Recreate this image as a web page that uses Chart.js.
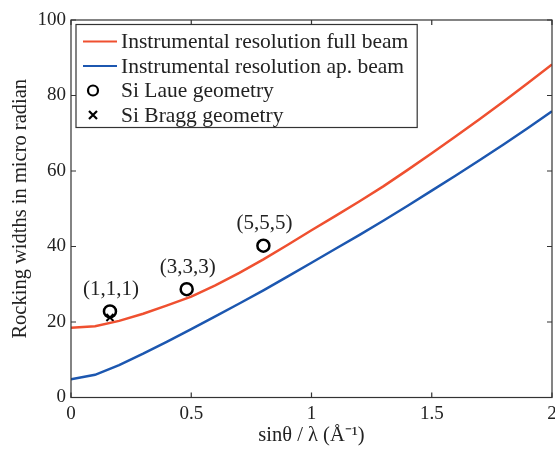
<!DOCTYPE html>
<html>
<head>
<meta charset="utf-8">
<script src="https://cdn.jsdelivr.net/npm/chart.js@4.4.1/dist/chart.umd.min.js"></script>
<style>
  html, body { margin: 0; padding: 0; background: #fff; }
  #wrap { width: 555px; height: 449px; }
</style>
</head>
<body>
<div id="wrap"><canvas id="rockingChart" width="555" height="449"></canvas></div>
<script>
// sin(theta)/lambda grid for the resolution curves
const sinThetaOverLambda = [0, 0.1, 0.2, 0.3, 0.4, 0.5, 0.6, 0.7, 0.8, 0.9, 1.0,
  1.1, 1.2, 1.3, 1.4, 1.5, 1.6, 1.7, 1.8, 1.9, 2.0];
const fullBeam = [18.5, 18.9, 20.3, 22.2, 24.4, 26.7, 29.7, 33.0, 36.6, 40.4, 44.3,
  48.1, 52.0, 56.0, 60.3, 64.7, 69.2, 73.8, 78.5, 83.3, 88.2];
const apBeam = [4.8, 6.0, 8.6, 11.6, 14.8, 18.1, 21.5, 24.9, 28.4, 32.0, 35.7,
  39.4, 43.1, 46.9, 50.8, 54.8, 58.8, 62.9, 67.1, 71.4, 75.8];

// measured Si reflections
const reflections = ['(1,1,1)', '(3,3,3)', '(5,5,5)'];
const laueX = [0.162, 0.481, 0.80];
const laueY = [22.8, 28.7, 40.2];
const braggX = [0.162];
const braggY = [21.2];

const xTicks = [0, 0.5, 1, 1.5, 2];
const yTicks = [0, 20, 40, 60, 80, 100];

const serif = '"Liberation Serif", "Times New Roman", serif';
const red = '#ef5030';
const blue = '#1c57b0';

const toPoints = (xs, ys) => xs.map((x, i) => ({ x: x, y: ys[i] }));

// MATLAB-like frame with inward ticks on all four sides
const framePlugin = {
  id: 'frame',
  afterDraw(chart) {
    const { ctx, chartArea: a, scales } = chart;
    const len = 5;
    ctx.save();
    ctx.strokeStyle = '#333';
    ctx.lineWidth = 1.2;
    ctx.strokeRect(a.left, a.top, a.right - a.left, a.bottom - a.top);
    ctx.beginPath();
    xTicks.forEach(v => {
      const px = scales.x.getPixelForValue(v);
      ctx.moveTo(px, a.bottom); ctx.lineTo(px, a.bottom - len);
      ctx.moveTo(px, a.top); ctx.lineTo(px, a.top + len);
    });
    yTicks.forEach(v => {
      const py = scales.y.getPixelForValue(v);
      ctx.moveTo(a.left, py); ctx.lineTo(a.left + len, py);
      ctx.moveTo(a.right, py); ctx.lineTo(a.right - len, py);
    });
    ctx.stroke();
    ctx.restore();
  }
};

// (h,k,l) labels above the Laue points
const reflectionLabels = {
  id: 'reflectionLabels',
  afterDatasetsDraw(chart) {
    const { ctx, scales } = chart;
    ctx.save();
    ctx.font = '21px ' + serif;
    ctx.fillStyle = '#222';
    ctx.textAlign = 'center';
    ctx.textBaseline = 'middle';
    reflections.forEach((txt, i) => {
      const px = scales.x.getPixelForValue(laueX[i]);
      const py = scales.y.getPixelForValue(laueY[i]);
      ctx.fillText(txt, px + 1, py - 22);
    });
    ctx.restore();
  }
};

// boxed legend in the upper-left corner of the plot area
const boxLegend = {
  id: 'boxLegend',
  afterDraw(chart) {
    const { ctx, chartArea: a } = chart;
    const sets = chart.data.datasets;
    const left = a.left + 5, top = a.top + 4.5;
    const rowH = 24.5, textX = left + 45;
    ctx.save();
    ctx.font = '21.5px ' + serif;
    let maxW = 0;
    sets.forEach(ds => { maxW = Math.max(maxW, ctx.measureText(ds.label).width); });
    const w = textX - left + maxW + 9;
    const h = rowH * sets.length + 5;
    ctx.fillStyle = '#fff';
    ctx.fillRect(left, top, w, h);
    ctx.strokeStyle = '#333';
    ctx.lineWidth = 1.2;
    ctx.strokeRect(left, top, w, h);
    sets.forEach((ds, i) => {
      const y = top + 17 + i * rowH;
      if (ds.showLine) {
        ctx.strokeStyle = ds.borderColor;
        ctx.lineWidth = 2.2;
        ctx.beginPath();
        ctx.moveTo(left + 7, y); ctx.lineTo(left + 41, y);
        ctx.stroke();
      } else if (ds.pointStyle === 'circle') {
        ctx.strokeStyle = '#000';
        ctx.lineWidth = 2.2;
        ctx.beginPath();
        ctx.arc(left + 17, y, 5, 0, Math.PI * 2);
        ctx.stroke();
      } else {
        ctx.strokeStyle = '#000';
        ctx.lineWidth = 2.2;
        ctx.beginPath();
        ctx.moveTo(left + 13, y - 4); ctx.lineTo(left + 21, y + 4);
        ctx.moveTo(left + 13, y + 4); ctx.lineTo(left + 21, y - 4);
        ctx.stroke();
      }
      ctx.fillStyle = '#222';
      ctx.textBaseline = 'middle';
      ctx.fillText(ds.label, textX, y + 1);
    });
    ctx.restore();
  }
};

new Chart(document.getElementById('rockingChart'), {
  type: 'scatter',
  data: {
    datasets: [{
      label: 'Instrumental resolution full beam',
      data: toPoints(sinThetaOverLambda, fullBeam),
      showLine: true,
      borderColor: red,
      borderWidth: 2.5,
      pointRadius: 0,
      tension: 0
    }, {
      label: 'Instrumental resolution ap. beam',
      data: toPoints(sinThetaOverLambda, apBeam),
      showLine: true,
      borderColor: blue,
      borderWidth: 2.5,
      pointRadius: 0,
      tension: 0
    }, {
      label: 'Si Laue geometry',
      data: toPoints(laueX, laueY),
      showLine: false,
      pointStyle: 'circle',
      pointRadius: 6,
      pointBorderWidth: 2.5,
      borderColor: '#000',
      backgroundColor: 'rgba(0,0,0,0)'
    }, {
      label: 'Si Bragg geometry',
      data: toPoints(braggX, braggY),
      showLine: false,
      pointStyle: 'crossRot',
      pointRadius: 5,
      pointBorderWidth: 2,
      borderColor: '#000'
    }]
  },
  options: {
    responsive: false,
    animation: false,
    layout: { autoPadding: false, padding: { left: 0, right: 3, top: 20, bottom: 0 } },
    plugins: {
      legend: { display: false },
      tooltip: { enabled: false }
    },
    scales: {
      x: {
        type: 'linear',
        min: 0,
        max: 2,
        grid: { display: false, drawTicks: false },
        border: { display: false },
        ticks: {
          stepSize: 0.5,
          padding: 5,
          maxRotation: 0,
          color: '#222',
          font: { family: serif, size: 19 },
          callback: v => String(v)
        },
        title: {
          display: true,
          text: 'sinθ / λ (Å⁻¹)',
          color: '#222',
          font: { family: serif, size: 20.5 },
          padding: { top: 0, bottom: 1 }
        },
        afterFit(scale) {
          scale.height = 51.5;
          scale.paddingLeft = 0;
          scale.paddingRight = 0;
        }
      },
      y: {
        min: 0,
        max: 100,
        grid: { display: false, drawTicks: false },
        border: { display: false },
        ticks: {
          stepSize: 20,
          padding: 5,
          color: '#222',
          font: { family: serif, size: 19 }
        },
        title: {
          display: true,
          text: 'Rocking widths in micro radian',
          color: '#222',
          font: { family: serif, size: 20.5 },
          padding: { top: 8, bottom: 0 }
        },
        afterFit(scale) {
          scale.width = 71;
          scale.paddingTop = 0;
          scale.paddingBottom = 0;
        }
      }
    }
  },
  plugins: [framePlugin, reflectionLabels, boxLegend]
});
</script>
</body>
</html>
